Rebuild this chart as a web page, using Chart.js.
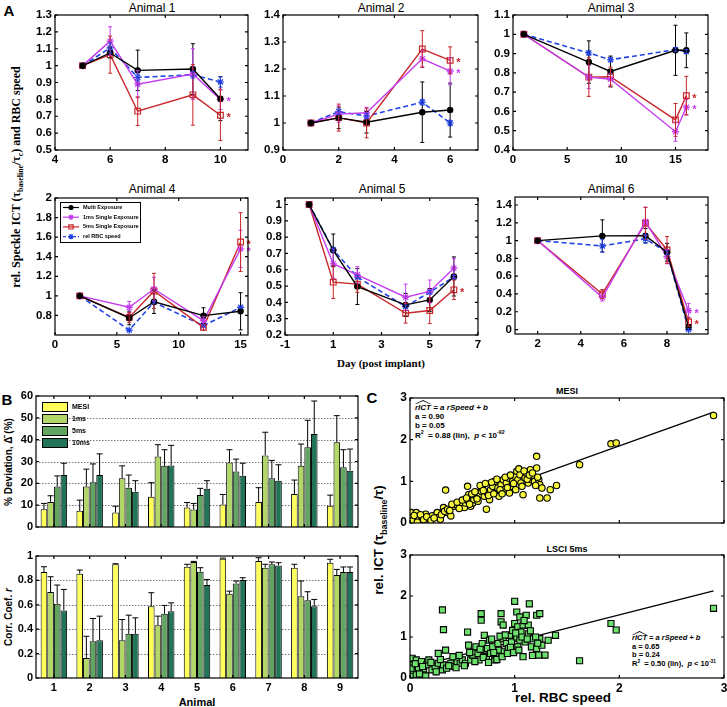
<!DOCTYPE html>
<html><head><meta charset="utf-8">
<script src="https://cdn.jsdelivr.net/npm/chart.js@4"></script>
<style>
body{margin:0;background:#fff;width:727px;height:707px;position:relative;overflow:hidden;font-family:"Liberation Sans",Arial,sans-serif;color:#000;}
canvas{position:absolute;}
.t{position:absolute;white-space:nowrap;transform:translate(-50%,-50%);line-height:1;}
.r{transform:translate(-50%,-50%) rotate(-90deg);}
.ann{position:absolute;white-space:nowrap;font-weight:bold;line-height:1.15;}
.hat{position:relative;display:inline-block;}
.hat:before{content:"";position:absolute;left:0;right:0;top:-3px;height:4px;background:#000;clip-path:polygon(0 100%,50% 0,100% 100%,92% 100%,50% 25%,8% 100%);}
sub,sup{font-size:65%;line-height:0;}
</style></head><body>
<div class="t" style="left:9px;top:10px;font-weight:bold;font-size:15px">A</div>
<div class="t" style="left:7px;top:399px;font-weight:bold;font-size:15px">B</div>
<div class="t" style="left:372px;top:397px;font-weight:bold;font-size:15px">C</div>
<div class="t" style="left:152px;top:8px;font-size:12px">Animal 1</div>
<div class="t" style="left:381px;top:8px;font-size:12px">Animal 2</div>
<div class="t" style="left:611px;top:8px;font-size:12px">Animal 3</div>
<div class="t" style="left:152px;top:189px;font-size:12px">Animal 4</div>
<div class="t" style="left:382px;top:189px;font-size:12px">Animal 5</div>
<div class="t" style="left:611px;top:189px;font-size:12px">Animal 6</div>
<div class="t r" style="left:16px;top:177px;font-family:'Liberation Serif',serif;font-weight:bold;font-size:12px">rel. Speckle ICT (τ<sub>baseline</sub>/τ<sub>c</sub>) and RBC speed</div>
<div class="t" style="left:381px;top:363px;font-family:'Liberation Serif',serif;font-weight:bold;font-size:11px">Day (post implant)</div>
<div class="t r" style="left:9px;top:462px;font-weight:bold;font-size:10px">% Deviation, Δ̄ (%)</div>
<div class="t r" style="left:9px;top:617px;font-weight:bold;font-size:10px">Corr. Coef. <i>r</i></div>
<div class="t" style="left:197px;top:702px;font-weight:bold;font-size:11px">Animal</div>
<div class="t" style="left:567px;top:391px;font-weight:bold;font-size:9px">MESI</div>
<div class="t" style="left:567px;top:549px;font-weight:bold;font-size:9px">LSCI 5ms</div>
<div class="t r" style="left:379px;top:540px;font-weight:bold;font-size:13.5px">rel. ICT (τ<sub>baseline</sub>/τ)</div>
<div class="t" style="left:563px;top:698px;font-weight:bold;font-size:13.5px">rel. RBC speed</div>
<div class="ann" style="left:415px;top:403px;font-size:8px"><i><span class="hat">rICT</span> = a rSpeed + b</i><br>a = 0.90<br>b = 0.05<br>R<sup>2</sup> &nbsp;= 0.88 (lin), &nbsp;<i>p</i> &lt; 10<sup>-92</sup></div>
<div class="ann" style="left:632px;top:634px;font-size:7.5px"><i><span class="hat">rICT</span> = a rSpeed + b</i><br>a = 0.65<br>b = 0.24<br>R<sup>2</sup> &nbsp;= 0.50 (lin), &nbsp;<i>p</i> &lt; 10<sup>-31</sup></div>
<script>
// ---------------- DATA: Panel A ----------------
const seriesNames=['Multi Exposure','1ms Single Exposure','5ms Single Exposure','rel RBC speed'];
const days1=[5,6,7,9,10];
const multi1=[1.0,1.075,0.972,0.98,0.804], multiErr1=[0,0.03,0.12,0.15,0.13];
const ms1_1=[1.0,1.145,0.89,0.95,0.80], ms1Err1=[0,0.085,0.08,0.15,0.06];
const ms5_1=[1.0,1.065,0.73,0.827,0.706], ms5Err1=[0,0.11,0.085,0.18,0.15];
const rbc1=[1.0,1.105,0.93,0.946,0.903], rbcErr1=[0,0.03,0.02,0.02,0.03];

const days2=[1,2,3,5,6];
const multi2=[1.0,1.019,1.003,1.04,1.048], multiErr2=[0,0.04,0.04,0.112,0.1];
const ms1_2=[1.0,1.033,1.038,1.238,1.192], ms1Err2=[0,0.03,0.02,0.03,0.05];
const ms5_2=[1.0,1.02,1.0,1.274,1.232], ms5Err2=[0,0.05,0.055,0.068,0.05];
const rbc2=[1.0,1.042,1.026,1.077,1.0], rbcErr2=[0,0.01,0.01,0.01,0.01];

const days3=[1,7,9,15,16];
const multi3=[1.0,0.856,0.807,0.917,0.917], multiErr3=[0,0.11,0.08,0.13,0.09];
const ms1_3=[1.0,0.778,0.767,0.495,0.622], ms1Err3=[0,0.06,0.03,0.05,0.04];
const ms5_3=[1.0,0.778,0.78,0.556,0.682], ms5Err3=[0,0.1,0.05,0.085,0.1];
const rbc3=[1.0,0.903,0.868,0.92,0.911], rbcErr3=[0,0.01,0.01,0.01,0.01];

const days4=[2,6,8,12,15];
const multi4=[1.0,0.774,0.94,0.798,0.842], multiErr4=[0,0.07,0.12,0.08,0.19];
const ms1_4=[1.0,0.883,1.07,0.746,1.48], ms1Err4=[0,0.06,0.12,0.04,0.19];
const ms5_4=[1.0,0.78,1.05,0.678,1.55], ms5Err4=[0,0.05,0.18,0.03,0.3];
const rbc4=[1.0,0.65,0.935,0.695,0.883], rbcErr4=[0,0.01,0.01,0.01,0.01];

const days5=[0,1,2,4,5,6];
const multi5=[1.0,0.719,0.497,0.385,0.415,0.559], multiErr5=[0,0.1,0.11,0.07,0.07,0.12];
const ms1_5=[1.0,0.637,0.569,0.432,0.467,0.61], ms1Err5=[0,0.09,0.05,0.08,0.07,0.06];
const ms5_5=[1.0,0.524,0.512,0.333,0.35,0.477], ms5Err5=[0,0.1,0.05,0.06,0.08,0.06];
const rbc5=[1.0,0.723,0.555,0.374,0.463,0.555], rbcErr5=[0,0.01,0.01,0.01,0.01,0.01];

const days6=[2,5,7,8,9];
const multi6=[1.0,1.053,1.056,0.869,0.03], multiErr6=[0,0.18,0.08,0.1,0.02];
const ms1_6=[1.0,0.362,1.214,0.82,0.212], ms1Err6=[0,0.04,0.16,0.08,0.08];
const ms5_6=[1.0,0.4,1.195,0.895,0.086], ms5Err6=[0,0.05,0.18,0.15,0.05];
const rbc6=[1.0,0.94,1.02,0.865,0.0], rbcErr6=[0,0.07,0.05,0.02,0.01];

// axis ranges and tick labels
const xTicks1=[4,6,8,10], yTicks1=[0.5,0.6,0.7,0.8,0.9,1,1.1,1.2,1.3];
const xTicks2=[0,2,4,6], yTicks2=[0.9,1,1.1,1.2,1.3,1.4];
const xTicks3=[0,5,10,15], yTicks3=[0.4,0.5,0.6,0.7,0.8,0.9,1,1.1];
const xTicks4=[0,5,10,15], yTicks4=[0.8,1,1.2,1.4,1.6,1.8,2];
const xTicks5=[-1,1,3,5,7], yTicks5=[0.2,0.3,0.4,0.5,0.6,0.7,0.8,0.9,1];
const xTicks6=[2,4,6,8], yTicks6=[0,0.2,0.4,0.6,0.8,1,1.2,1.4];

// ---------------- DATA: Panel B ----------------
const animals=['1','2','3','4','5','6','7','8','9'];
const methods=['MESI','1ms','5ms','10ms'];
const mesiDev=[8.15,7.4,6.6,13.8,8.9,10.3,11.5,15.1,9.7], mesiDevErr=[2.65,4.9,2.9,6.5,2.3,4.6,6.5,6.4,4.9];
const ms1Dev=[11.5,18.5,22.3,32.3,8,29.5,32.8,28,38.8], ms1DevErr=[2.8,8,5.7,5.4,2.8,5.9,10.6,10,12.2];
const ms5Dev=[18.5,20.5,18,28,14.6,25.4,22.3,36.5,27.4], ms5DevErr=[4.9,8.4,5.8,7.4,3.1,5.7,8.2,12.4,8];
const ms10Dev=[23.8,23.8,16.2,28.2,17.5,23.5,21.2,42.6,25.8], ms10DevErr=[5.4,9.7,5,9.2,3.7,5.7,7.3,15.1,9.9];
const devTicks=[0,10,20,30,40,50,60];
const mesiR=[0.868,0.855,0.932,0.589,0.912,0.978,0.959,0.904,0.945], mesiRErr=[0.044,0.03,0.005,0.11,0.02,0.005,0.027,0.028,0.028];
const ms1R=[0.704,0.164,0.31,0.433,0.951,0.69,0.904,0.671,0.844], ms1RErr=[0.126,0.178,0.169,0.074,0.005,0.022,0.028,0.124,0.046];
const ms5R=[0.608,0.301,0.362,0.526,0.871,0.775,0.932,0.638,0.868], ms5RErr=[0.154,0.187,0.153,0.069,0.033,0.02,0.019,0.069,0.042];
const ms10R=[0.553,0.31,0.362,0.548,0.762,0.803,0.923,0.589,0.868], ms10RErr=[0.173,0.197,0.131,0.068,0.046,0.019,0.022,0.055,0.042];
const rTicks=[0,0.2,0.4,0.6,0.8,1];

// ---------------- DATA: Panel C ----------------
const mesiPoints=[[0.01,0.25],[0.01,0.13],[0.06,0.25],[0.08,0.13],[0.11,0.05],[0.15,0.21],[0.18,0.10],[0.21,0.17],[0.26,0.25],[0.27,0.13],[0.29,0.09],[0.32,0.37],[0.35,0.25],[0.39,0.17],[0.42,0.40],[0.44,0.44],[0.48,0.44],[0.52,0.37],[0.53,0.48],[0.56,0.52],[0.58,0.40],[0.60,0.48],[0.61,0.56],[0.63,0.64],[0.65,0.52],[0.66,0.68],[0.68,0.76],[0.69,0.84],[0.71,0.64],[0.73,0.33],[0.74,0.72],[0.76,0.56],[0.77,0.80],[0.79,0.88],[0.81,1.00],[0.82,0.72],[0.84,0.84],[0.85,0.64],[0.87,0.92],[0.89,1.04],[0.90,0.80],[0.92,0.96],[0.94,1.08],[0.95,0.72],[0.97,0.88],[0.98,1.00],[1.00,1.12],[1.02,1.24],[1.03,1.04],[1.05,1.16],[1.06,0.96],[1.08,0.68],[1.10,1.08],[1.11,1.20],[1.13,0.96],[1.15,1.28],[1.16,1.04],[1.18,1.12],[1.19,1.00],[1.21,1.60],[1.21,1.32],[1.23,1.04],[1.24,0.92],[1.26,0.84],[1.24,0.60],[1.31,0.60],[1.34,0.80],[1.40,0.90],[0.34,0.79],[0.55,0.88],[0.56,0.68],[1.62,1.40],[1.92,1.90],[1.97,1.92],[2.90,2.58],
 [0.02,0.05],[0.04,0.18],[0.07,0.02],[0.10,0.20],[0.13,0.08],[0.16,0.15],[0.20,0.06],[0.23,0.12],[0.30,0.20],[0.33,0.28],[0.36,0.33],[0.38,0.30],[0.40,0.45],[0.45,0.50],[0.47,0.35],[0.50,0.55],[0.54,0.60],[0.57,0.45],[0.59,0.70],[0.62,0.75],[0.64,0.58],[0.67,0.90],[0.70,0.78],[0.72,0.95],[0.75,0.66],[0.78,0.98],[0.80,0.70],[0.83,1.05],[0.86,0.80],[0.88,0.70],[0.91,1.10],[0.93,0.85],[0.96,1.15],[0.99,0.95],[1.01,0.80],[1.04,1.30],[1.07,0.88],[1.09,1.25],[1.12,1.05],[1.14,1.15],[1.17,1.20],[1.20,0.90],[1.22,1.10]];
const lsciPoints=[[0.02,0.48],[0.02,0.32],[0.03,0.16],[0.06,0.44],[0.08,0.24],[0.11,0.40],[0.13,0.16],[0.16,0.32],[0.18,0.44],[0.21,0.20],[0.24,0.28],[0.27,0.36],[0.27,0.60],[0.31,0.20],[0.32,0.32],[0.34,0.68],[0.35,0.24],[0.39,0.36],[0.42,0.28],[0.45,0.40],[0.48,0.36],[0.50,0.44],[0.53,0.36],[0.55,1.12],[0.56,0.80],[0.58,0.44],[0.60,0.56],[0.61,0.64],[0.63,0.76],[0.65,0.60],[0.66,0.44],[0.68,1.41],[0.68,1.57],[0.69,0.84],[0.71,1.04],[0.71,0.68],[0.73,0.52],[0.74,0.72],[0.76,0.92],[0.77,0.60],[0.79,0.76],[0.81,0.44],[0.82,0.56],[0.84,0.84],[0.85,0.68],[0.87,1.57],[0.87,1.37],[0.89,1.29],[0.89,0.96],[0.90,0.64],[0.92,0.84],[0.94,0.72],[0.95,1.04],[0.97,0.88],[0.98,1.16],[1.00,1.87],[1.00,1.33],[1.02,1.61],[1.02,1.00],[1.03,1.25],[1.03,0.76],[1.05,1.49],[1.05,0.92],[1.06,1.12],[1.08,0.52],[1.08,1.29],[1.10,0.88],[1.11,1.53],[1.13,1.08],[1.13,1.29],[1.14,1.81],[1.16,0.76],[1.18,0.96],[1.21,1.53],[1.21,0.72],[1.23,0.56],[1.24,1.57],[1.24,0.96],[1.26,0.80],[1.29,0.56],[1.32,0.92],[1.39,1.04],[0.31,1.66],[0.32,1.18],[0.03,0.04],[0.06,0.08],[0.13,0.08],[0.01,0.24],[1.62,0.42],[1.92,1.33],[1.97,1.17],[2.90,1.70],
 [0.05,0.35],[0.09,0.10],[0.12,0.28],[0.15,0.05],[0.20,0.38],[0.25,0.15],[0.29,0.45],[0.37,0.30],[0.41,0.52],[0.44,0.25],[0.47,0.55],[0.52,0.30],[0.57,0.62],[0.62,0.40],[0.67,0.70],[0.70,0.50],[0.75,0.38],[0.78,0.95],[0.80,0.62],[0.83,0.45],[0.86,1.02],[0.88,0.52],[0.91,1.05],[0.93,0.60],[0.96,0.75],[0.99,0.62],[1.01,1.10],[1.04,0.68],[1.07,1.00],[1.09,1.40],[1.12,0.95],[1.15,1.15],[1.17,0.55],[1.20,1.00],[1.22,0.85]];
const fitA=[0.90,0.65], fitB=[0.05,0.24], fitXEnd=2.9;
const cTicks=[0,1,2,3];

// ---------------- STYLE ----------------
Chart.defaults.font.family='"Liberation Sans", Arial, sans-serif';
Chart.defaults.font.weight='bold';
Chart.defaults.color='#000';
Chart.defaults.plugins.legend.display=false;
Chart.defaults.plugins.tooltip.enabled=false;
Chart.defaults.animation=false;

const fmt=v=>String(parseFloat(Number(v).toFixed(2)));

const framePlugin={id:'frame',afterDraw(chart){
  const {ctx,chartArea:a,scales}=chart;
  ctx.save();ctx.strokeStyle='#000';ctx.lineWidth=1.2;ctx.setLineDash([]);
  const tl=3;
  ctx.beginPath();
  scales.x.ticks.forEach(t=>{const p=scales.x.getPixelForValue(t.value);ctx.moveTo(p,a.bottom);ctx.lineTo(p,a.bottom-tl);ctx.moveTo(p,a.top);ctx.lineTo(p,a.top+tl);});
  scales.y.ticks.forEach(t=>{const p=scales.y.getPixelForValue(t.value);ctx.moveTo(a.left,p);ctx.lineTo(a.left+tl,p);ctx.moveTo(a.right,p);ctx.lineTo(a.right-tl,p);});
  ctx.stroke();
  ctx.strokeRect(a.left,a.top,a.right-a.left,a.bottom-a.top);
  ctx.restore();
}};
const gridPlugin={id:'dotgrid',beforeDatasetsDraw(chart){
  const {ctx,chartArea:a,scales}=chart;
  ctx.save();ctx.strokeStyle='#555';ctx.lineWidth=0.8;ctx.setLineDash([1.5,1.5]);
  const ts=scales.y.ticks;
  ts.slice(1,ts.length-1).forEach(t=>{const p=Math.round(scales.y.getPixelForValue(t.value))+0.5;ctx.beginPath();ctx.moveTo(a.left,p);ctx.lineTo(a.right,p);ctx.stroke();});
  ctx.restore();
}};
const errPlugin={id:'err',afterDatasetsDraw(chart){
  const ctx=chart.ctx, ys=chart.scales.y;
  chart.data.datasets.forEach((ds,i)=>{
    const meta=chart.getDatasetMeta(i);
    if(ds.errors){
      ctx.save();ctx.strokeStyle=ds.errColor||ds.borderColor;ctx.lineWidth=1;ctx.setLineDash([]);
      meta.data.forEach((el,j)=>{
        const e=ds.errors[j]; if(!e) return;
        const raw=ds.data[j]; const v=(typeof raw==='object')?raw.y:raw;
        const up=ys.getPixelForValue(v+e), dn=ds.upOnly?el.y:ys.getPixelForValue(v-e);
        const cw=ds.capW||2;
        ctx.beginPath();ctx.moveTo(el.x,dn);ctx.lineTo(el.x,up);
        ctx.moveTo(el.x-cw,up);ctx.lineTo(el.x+cw,up);
        if(!ds.upOnly){ctx.moveTo(el.x-cw,dn);ctx.lineTo(el.x+cw,dn);}
        ctx.stroke();
      });
      ctx.restore();
    }
    if(ds.mark){
      const el=meta.data[meta.data.length-1];
      ctx.save();ctx.fillStyle=ds.borderColor;ctx.font='bold 11px "Liberation Sans"';ctx.textBaseline='middle';
      ctx.fillText('*',el.x+6,el.y+3);ctx.restore();
    }
  });
}};
const legendAPlugin={id:'legA',afterDraw(chart){
  const {ctx,chartArea:a}=chart;
  const x0=a.left+5,y0=a.top+4,w=80,h=40;
  ctx.save();ctx.fillStyle='#fff';ctx.fillRect(x0,y0,w,h);ctx.strokeStyle='#000';ctx.lineWidth=1;ctx.strokeRect(x0+0.5,y0+0.5,w,h);
  chart.data.datasets.forEach((ds,i)=>{
    const yy=y0+5.5+i*9.7;
    ctx.strokeStyle=ds.borderColor;ctx.lineWidth=1.2;ctx.setLineDash(ds.borderDash?[3,2]:[]);
    ctx.beginPath();ctx.moveTo(x0+3,yy);ctx.lineTo(x0+19,yy);ctx.stroke();ctx.setLineDash([]);
    ctx.fillStyle=ds.backgroundColor;ctx.strokeStyle=ds.borderColor;
    if(Chart.helpers&&Chart.helpers.drawPoint){Chart.helpers.drawPoint(ctx,{pointStyle:ds.pointStyle,radius:ds.pointRadius*0.75,borderWidth:1,rotation:0},x0+11,yy);}
    ctx.fillStyle='#000';ctx.font='bold 5.5px "Liberation Sans"';ctx.textBaseline='middle';ctx.fillText(ds.label,x0+23,yy);
  });
  ctx.restore();
}};
const legendBPlugin={id:'legB',afterDraw(chart){
  const {ctx,chartArea:a}=chart;
  ctx.save();
  chart.data.datasets.forEach((ds,i)=>{
    const x0=a.left+6,y0=a.top+6+i*12;
    ctx.fillStyle=ds.backgroundColor;ctx.fillRect(x0,y0,25,9);ctx.strokeStyle='#000';ctx.lineWidth=1;ctx.strokeRect(x0+0.5,y0+0.5,25,9);
    ctx.fillStyle='#000';ctx.font='bold 7px "Liberation Sans"';ctx.textBaseline='middle';ctx.fillText(ds.label,x0+30,y0+5);
  });
  ctx.restore();
}};

function linScale(min,max,ticks,size,showLabels){
  return {type:'linear',min,max,grid:{display:false,drawTicks:false},border:{display:false},
    ticks:{font:{size,weight:'bold'},color:'#000',padding:3,autoSkip:false,maxRotation:0,callback:v=>showLabels===false?'':fmt(v)},
    afterBuildTicks:s=>{s.ticks=ticks.map(v=>({value:v}));}};
}
function mk(rect,yw,xh,cfg){
  const pt=8,pr=10;
  const c=document.createElement('canvas');
  const w=rect[2]-rect[0]+yw+pr,h=rect[3]-rect[1]+pt+xh;
  c.width=w;c.height=h;c.style.left=(rect[0]-yw)+'px';c.style.top=(rect[1]-pt)+'px';
  c.style.width=w+'px';c.style.height=h+'px';
  document.body.appendChild(c);
  cfg.options.responsive=false;cfg.options.animation=false;
  cfg.options.layout={padding:{top:pt,right:pr,left:0,bottom:0}};
  cfg.options.scales.x.afterFit=s=>{s.height=xh;s.paddingLeft=0;s.paddingRight=0;};
  cfg.options.scales.y.afterFit=s=>{s.width=yw;s.paddingTop=0;s.paddingBottom=0;};
  return new Chart(c,cfg);
}
const pts=(xs,ys)=>xs.map((x,i)=>({x,y:ys[i]}));
const seriesStyle=[
  {borderColor:'#000000',backgroundColor:'#000000',pointStyle:'circle',pointRadius:2.6,borderWidth:1.4},
  {borderColor:'#c43cf0',backgroundColor:'#c43cf0',pointStyle:'star',pointRadius:3.6,borderWidth:1.4},
  {borderColor:'#c8262a',backgroundColor:'rgba(0,0,0,0)',pointStyle:'rect',pointRadius:4,borderWidth:1.4},
  {borderColor:'#2244e6',backgroundColor:'#2244e6',pointStyle:'star',pointRadius:3.6,borderWidth:1.6,borderDash:[5,3]}
];
function animalChart(rect,days,series,errs,marks,xr,yr,xt,yt,extraPlugins){
  const datasets=series.map((s,i)=>Object.assign({label:seriesNames[i],data:pts(days,s),errors:errs[i],showLine:true,capW:2,mark:marks[i],pointBorderWidth:1.2},seriesStyle[i]));
  return mk(rect,28,16,{type:'scatter',data:{datasets},
    options:{scales:{x:linScale(xr[0],xr[1],xt,11.5),y:linScale(yr[0],yr[1],yt,11.5)}},
    plugins:[errPlugin,framePlugin].concat(extraPlugins||[])});
}
animalChart([55,15,248,150],days1,[multi1,ms1_1,ms5_1,rbc1],[multiErr1,ms1Err1,ms5Err1,rbcErr1],[false,true,true,false],[4,11],[0.5,1.3],xTicks1,yTicks1);
animalChart([283,15,478,150],days2,[multi2,ms1_2,ms5_2,rbc2],[multiErr2,ms1Err2,ms5Err2,rbcErr2],[false,true,true,false],[0,7],[0.9,1.4],xTicks2,yTicks2);
animalChart([513,15,708,150],days3,[multi3,ms1_3,ms5_3,rbc3],[multiErr3,ms1Err3,ms5Err3,rbcErr3],[false,true,true,false],[0,18],[0.4,1.1],xTicks3,yTicks3);
animalChart([55,198,248,335],days4,[multi4,ms1_4,ms5_4,rbc4],[multiErr4,ms1Err4,ms5Err4,rbcErr4],[false,true,true,false],[0,15.6],[0.6,2],xTicks4,yTicks4,[legendAPlugin]);
animalChart([285,198,478,335],days5,[multi5,ms1_5,ms5_5,rbc5],[multiErr5,ms1Err5,ms5Err5,rbcErr5],[false,false,true,false],[-1,7],[0.2,1.04],xTicks5,yTicks5);
animalChart([515,197,708,334],days6,[multi6,ms1_6,ms5_6,rbc6],[multiErr6,ms1Err6,ms5Err6,rbcErr6],[false,true,true,false],[0.95,9.9],[-0.05,1.49],xTicks6,yTicks6);

// Panel B
const barColors=['#ffff5c','#b2d768','#62a462','#227458'];
function barChart(rect,vals,errs,yr,yt,showX,extra){
  const datasets=vals.map((v,i)=>({label:methods[i],data:v,errors:errs[i],upOnly:true,capW:3,errColor:'#000',backgroundColor:barColors[i],borderColor:'#000',borderWidth:1,categoryPercentage:0.74,barPercentage:1}));
  return mk(rect,22,16,{type:'bar',data:{labels:animals,datasets},
    options:{scales:{x:{type:'category',offset:true,grid:{display:false,drawTicks:false},border:{display:false},ticks:{font:{size:11,weight:'bold'},color:'#000',padding:3,callback:function(v,i){return showX?animals[i]:'';}}},
      y:linScale(yr[0],yr[1],yt,11)}},
    plugins:[gridPlugin,errPlugin,framePlugin].concat(extra||[])});
}
barChart([36,396,358,527],[mesiDev,ms1Dev,ms5Dev,ms10Dev],[mesiDevErr,ms1DevErr,ms5DevErr,ms10DevErr],[0,60],devTicks,false,[legendBPlugin]);
barChart([36,556,358,678],[mesiR,ms1R,ms5R,ms10R],[mesiRErr,ms1RErr,ms5RErr,ms10RErr],[0,1],rTicks,true);

// Panel C
function scatterChart(rect,points,k,style,showX){
  const datasets=[
    Object.assign({label:'data',data:points.map(p=>({x:p[0],y:p[1]})),borderColor:'#000',borderWidth:1.1,showLine:false},style),
    {label:'fit',data:[{x:0,y:fitB[k]},{x:fitXEnd,y:fitA[k]*fitXEnd+fitB[k]}],showLine:true,borderColor:'#000',borderWidth:1.4,pointRadius:0}
  ];
  return mk(rect,20,16,{type:'scatter',data:{datasets},
    options:{scales:{x:linScale(0,3,cTicks,12,showX),y:linScale(0,3,cTicks,12)}},
    plugins:[framePlugin]});
}
scatterChart([410,398,724,523],mesiPoints,0,{backgroundColor:'#f5f53a',pointStyle:'circle',pointRadius:3.2},false);
scatterChart([410,555,724,678],lsciPoints,1,{backgroundColor:'#6ee06e',pointStyle:'rect',pointRadius:4.3},true);
</script>
</body></html>
